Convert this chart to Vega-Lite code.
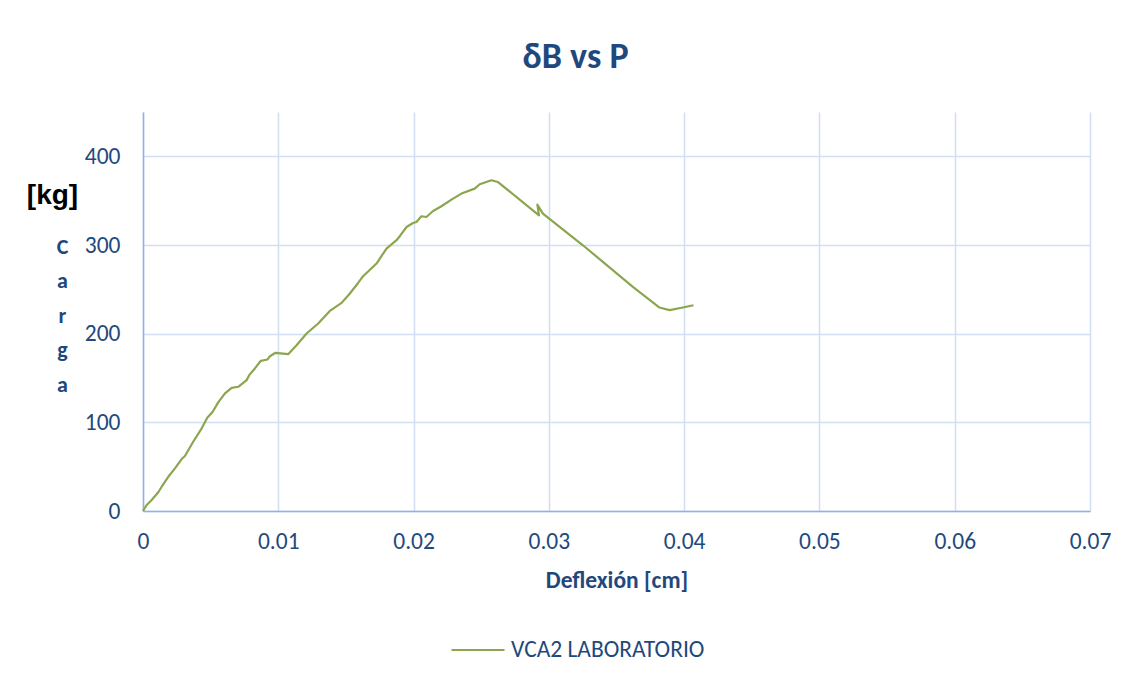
{
  "$schema": "https://vega.github.io/schema/vega-lite/v6.json",
  "autosize": {"type": "none"},
  "width": 947,
  "height": 399,
  "padding": {"left": 143, "top": 112, "right": 42, "bottom": 170},
  "background": "white",
  "title": {
    "text": "δB vs P",
    "fontSize": 36,
    "font": "Carlito, Lato, sans-serif",
    "fontWeight": "bold",
    "color": "#1F497D",
    "anchor": "middle",
    "dx": -41,
    "offset": 8,
    "baseline": "alphabetic"
  },
  "data": {
    "values": [
      {"i": 1, "deflexion": 0.0, "carga": 0.0, "serie": "VCA2 LABORATORIO"},
      {"i": 2, "deflexion": 0.00027, "carga": 6.8, "serie": "VCA2 LABORATORIO"},
      {"i": 3, "deflexion": 0.00064, "carga": 12.4, "serie": "VCA2 LABORATORIO"},
      {"i": 4, "deflexion": 0.00113, "carga": 21.1, "serie": "VCA2 LABORATORIO"},
      {"i": 5, "deflexion": 0.00138, "carga": 27.4, "serie": "VCA2 LABORATORIO"},
      {"i": 6, "deflexion": 0.00187, "carga": 38.6, "serie": "VCA2 LABORATORIO"},
      {"i": 7, "deflexion": 0.00236, "carga": 48.1, "serie": "VCA2 LABORATORIO"},
      {"i": 8, "deflexion": 0.00286, "carga": 58.6, "serie": "VCA2 LABORATORIO"},
      {"i": 9, "deflexion": 0.0031, "carga": 62.0, "serie": "VCA2 LABORATORIO"},
      {"i": 10, "deflexion": 0.00371, "carga": 78.1, "serie": "VCA2 LABORATORIO"},
      {"i": 11, "deflexion": 0.00434, "carga": 93.2, "serie": "VCA2 LABORATORIO"},
      {"i": 12, "deflexion": 0.00475, "carga": 105.1, "serie": "VCA2 LABORATORIO"},
      {"i": 13, "deflexion": 0.00515, "carga": 111.9, "serie": "VCA2 LABORATORIO"},
      {"i": 14, "deflexion": 0.00556, "carga": 122.5, "serie": "VCA2 LABORATORIO"},
      {"i": 15, "deflexion": 0.00606, "carga": 132.6, "serie": "VCA2 LABORATORIO"},
      {"i": 16, "deflexion": 0.00655, "carga": 138.9, "serie": "VCA2 LABORATORIO"},
      {"i": 17, "deflexion": 0.00704, "carga": 140.1, "serie": "VCA2 LABORATORIO"},
      {"i": 18, "deflexion": 0.00766, "carga": 147.6, "serie": "VCA2 LABORATORIO"},
      {"i": 19, "deflexion": 0.00785, "carga": 153.2, "serie": "VCA2 LABORATORIO"},
      {"i": 20, "deflexion": 0.00827, "carga": 160.8, "serie": "VCA2 LABORATORIO"},
      {"i": 21, "deflexion": 0.00871, "carga": 169.4, "serie": "VCA2 LABORATORIO"},
      {"i": 22, "deflexion": 0.00921, "carga": 170.9, "serie": "VCA2 LABORATORIO"},
      {"i": 23, "deflexion": 0.00938, "carga": 174.6, "serie": "VCA2 LABORATORIO"},
      {"i": 24, "deflexion": 0.0098, "carga": 178.4, "serie": "VCA2 LABORATORIO"},
      {"i": 25, "deflexion": 0.01073, "carga": 176.9, "serie": "VCA2 LABORATORIO"},
      {"i": 26, "deflexion": 0.01135, "carga": 187.0, "serie": "VCA2 LABORATORIO"},
      {"i": 27, "deflexion": 0.01209, "carga": 200.2, "serie": "VCA2 LABORATORIO"},
      {"i": 28, "deflexion": 0.01295, "carga": 211.5, "serie": "VCA2 LABORATORIO"},
      {"i": 29, "deflexion": 0.01381, "carga": 225.7, "serie": "VCA2 LABORATORIO"},
      {"i": 30, "deflexion": 0.01468, "carga": 234.7, "serie": "VCA2 LABORATORIO"},
      {"i": 31, "deflexion": 0.01529, "carga": 245.3, "serie": "VCA2 LABORATORIO"},
      {"i": 32, "deflexion": 0.0159, "carga": 257.2, "serie": "VCA2 LABORATORIO"},
      {"i": 33, "deflexion": 0.01627, "carga": 264.8, "serie": "VCA2 LABORATORIO"},
      {"i": 34, "deflexion": 0.01726, "carga": 279.1, "serie": "VCA2 LABORATORIO"},
      {"i": 35, "deflexion": 0.018, "carga": 296.0, "serie": "VCA2 LABORATORIO"},
      {"i": 36, "deflexion": 0.01874, "carga": 305.4, "serie": "VCA2 LABORATORIO"},
      {"i": 37, "deflexion": 0.01898, "carga": 309.9, "serie": "VCA2 LABORATORIO"},
      {"i": 38, "deflexion": 0.01948, "carga": 320.3, "serie": "VCA2 LABORATORIO"},
      {"i": 39, "deflexion": 0.01996, "carga": 324.8, "serie": "VCA2 LABORATORIO"},
      {"i": 40, "deflexion": 0.02021, "carga": 326.0, "serie": "VCA2 LABORATORIO"},
      {"i": 41, "deflexion": 0.02058, "carga": 332.4, "serie": "VCA2 LABORATORIO"},
      {"i": 42, "deflexion": 0.02095, "carga": 331.6, "serie": "VCA2 LABORATORIO"},
      {"i": 43, "deflexion": 0.02144, "carga": 338.4, "serie": "VCA2 LABORATORIO"},
      {"i": 44, "deflexion": 0.02206, "carga": 343.7, "serie": "VCA2 LABORATORIO"},
      {"i": 45, "deflexion": 0.0228, "carga": 351.2, "serie": "VCA2 LABORATORIO"},
      {"i": 46, "deflexion": 0.02354, "carga": 358.0, "serie": "VCA2 LABORATORIO"},
      {"i": 47, "deflexion": 0.02452, "carga": 363.6, "serie": "VCA2 LABORATORIO"},
      {"i": 48, "deflexion": 0.02489, "carga": 368.5, "serie": "VCA2 LABORATORIO"},
      {"i": 49, "deflexion": 0.02575, "carga": 373.0, "serie": "VCA2 LABORATORIO"},
      {"i": 50, "deflexion": 0.02624, "carga": 371.0, "serie": "VCA2 LABORATORIO"},
      {"i": 51, "deflexion": 0.02927, "carga": 333.5, "serie": "VCA2 LABORATORIO"},
      {"i": 52, "deflexion": 0.02915, "carga": 345.6, "serie": "VCA2 LABORATORIO"},
      {"i": 53, "deflexion": 0.02956, "carga": 335.4, "serie": "VCA2 LABORATORIO"},
      {"i": 54, "deflexion": 0.03252, "carga": 299.7, "serie": "VCA2 LABORATORIO"},
      {"i": 55, "deflexion": 0.03621, "carga": 252.7, "serie": "VCA2 LABORATORIO"},
      {"i": 56, "deflexion": 0.03818, "carga": 229.5, "serie": "VCA2 LABORATORIO"},
      {"i": 57, "deflexion": 0.03892, "carga": 226.5, "serie": "VCA2 LABORATORIO"},
      {"i": 58, "deflexion": 0.0399, "carga": 229.5, "serie": "VCA2 LABORATORIO"},
      {"i": 59, "deflexion": 0.04069, "carga": 232.1, "serie": "VCA2 LABORATORIO"}
    ]
  },
  "layer": [
    {
      "mark": {"type": "line", "strokeWidth": 2.2, "strokeJoin": "round"},
      "encoding": {
        "x": {
          "field": "deflexion",
          "type": "quantitative",
          "scale": {"domain": [0, 0.07], "nice": false, "zero": false},
          "axis": {
            "values": [0, 0.01, 0.02, 0.03, 0.04, 0.05, 0.06, 0.07],
            "format": "~g",
            "title": "Deflexión [cm]",
            "titleFont": "Carlito, Lato, sans-serif",
            "titleFontSize": 23.5,
            "titleFontWeight": "bold",
            "titleColor": "#1F497D",
            "titleAnchor": "middle",
            "titleBaseline": "middle",
            "titleY": 69,
            "labelFont": "Carlito, Lato, sans-serif",
            "labelFontSize": 23.5,
            "labelColor": "#1F497D",
            "labelPadding": 18,
            "labelBaseline": "top",
            "labelFlush": false,
            "ticks": false,
            "tickSize": 0,
            "domainColor": "#8DB3E2",
            "domainWidth": 1.5,
            "grid": true,
            "gridColor": "#D0DFF2",
            "gridWidth": 1.5
          }
        },
        "y": {
          "field": "carga",
          "type": "quantitative",
          "scale": {"domain": [0, 450], "nice": false},
          "axis": {
            "values": [0, 100, 200, 300, 400],
            "title": ["C", "a", "r", "g", "a"],
            "titleAngle": 0,
            "titleX": -81,
            "titleY": 134,
            "titleAlign": "center",
            "titleBaseline": "middle",
            "titleLineHeight": 34.5,
            "titleFont": "Carlito, Lato, sans-serif",
            "titleFontSize": 22,
            "titleFontWeight": "bold",
            "titleColor": "#1F497D",
            "labelFont": "Carlito, Lato, sans-serif",
            "labelFontSize": 23.5,
            "labelColor": "#1F497D",
            "labelPadding": 23,
            "ticks": false,
            "tickSize": 0,
            "domainColor": "#8DB3E2",
            "domainWidth": 1.5,
            "grid": true,
            "gridColor": "#D0DFF2",
            "gridWidth": 1.5
          }
        },
        "order": {"field": "i", "type": "quantitative"},
        "color": {
          "field": "serie",
          "type": "nominal",
          "scale": {"range": ["#8BA64E"]},
          "legend": {
            "orient": "none",
            "legendX": 307,
            "legendY": 510,
            "title": null,
            "symbolType": "stroke",
            "symbolSize": 2809,
            "symbolStrokeWidth": 2.2,
            "labelFont": "Carlito, Lato, sans-serif",
            "labelFontSize": 23.5,
            "labelColor": "#1F497D",
            "labelOffset": 5,
            "labelLimit": 0,
            "padding": 0
          }
        }
      }
    },
    {
      "mark": {"type": "line", "opacity": 0},
      "encoding": {
        "x": {"field": "deflexion", "type": "quantitative"},
        "y": {
          "field": "carga",
          "type": "quantitative",
          "scale": {"domain": [0, 450], "nice": false},
          "axis": {
            "orient": "right",
            "title": "[kg]",
            "titleAngle": 0,
            "titleX": -1038,
            "titleY": 83,
            "titleAlign": "center",
            "titleBaseline": "middle",
            "titleFont": "Liberation Sans, Arial, sans-serif",
            "titleFontSize": 28,
            "titleFontWeight": "bold",
            "titleColor": "#000000",
            "labels": false,
            "ticks": false,
            "domain": false,
            "grid": false
          }
        },
        "order": {"field": "i", "type": "quantitative"}
      }
    }
  ],
  "resolve": {"scale": {"y": "independent"}},
  "config": {"view": {"stroke": null}}
}
